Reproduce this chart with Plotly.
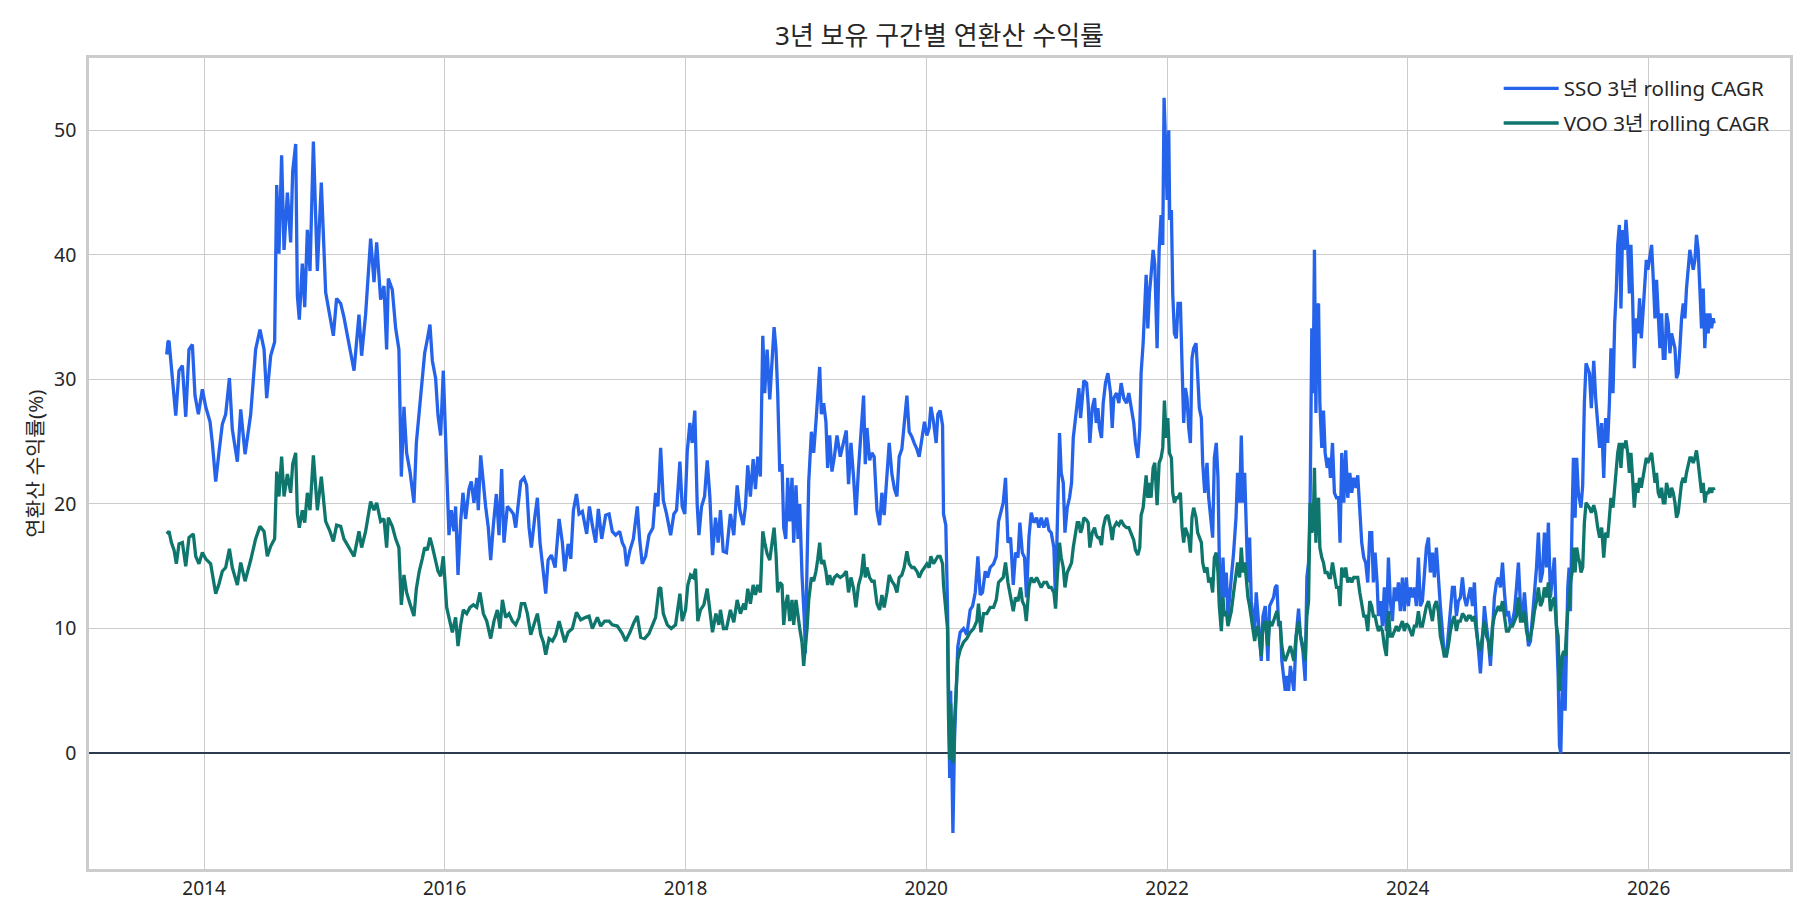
import datetime as dt
import plotly.graph_objects as go

# ---- data (time as decimal year, value = 3y rolling CAGR in %) ----
sso_points = [
(2013.690,32.0),(2013.700,33.0),(2013.709,33.1),(2013.723,31.5),(2013.745,29.5),(2013.765,27.1),(2013.792,30.7),
(2013.820,31.1),(2013.848,27.0),(2013.875,32.4),(2013.903,32.8),(2013.925,28.7),(2013.953,27.2),(2013.986,29.2),
(2014.014,27.8),(2014.050,26.6),(2014.069,24.9),(2014.097,21.8),(2014.125,24.2),(2014.152,26.4),(2014.180,27.2),
(2014.211,30.1),(2014.235,26.0),(2014.277,23.4),(2014.305,27.6),(2014.341,24.0),(2014.388,27.2),(2014.429,32.4),
(2014.465,34.0),(2014.499,32.4),(2014.521,28.5),(2014.554,31.9),(2014.587,33.0),(2014.604,45.6),(2014.623,40.1),
(2014.645,48.0),(2014.665,40.4),(2014.693,45.0),(2014.720,41.0),(2014.737,46.7),(2014.762,48.9),(2014.776,36.7),
(2014.792,34.8),(2014.817,39.3),(2014.837,35.8),(2014.859,42.0),(2014.881,38.7),(2014.909,49.1),(2014.942,38.7),
(2014.975,45.8),(2015.011,37.0),(2015.047,35.2),(2015.075,33.5),(2015.102,36.5),(2015.136,36.1),(2015.163,35.0),
(2015.205,32.7),(2015.247,30.7),(2015.288,35.2),(2015.310,31.9),(2015.343,35.2),(2015.385,41.3),(2015.413,37.8),
(2015.435,41.0),(2015.468,36.4),(2015.496,37.5),(2015.518,32.4),(2015.532,38.1),(2015.565,37.2),(2015.593,34.1),
(2015.620,32.4),(2015.640,22.2),(2015.662,27.8),(2015.684,24.1),(2015.712,22.6),(2015.745,20.1),(2015.765,24.9),
(2015.789,27.5),(2015.814,30.1),(2015.834,32.1),(2015.856,33.2),(2015.878,34.4),(2015.898,31.5),(2015.925,30.1),
(2015.945,27.1),(2015.967,25.5),(2015.989,30.7),(2016.017,22.1),
(2016.036,17.5),(2016.055,19.5),(2016.077,17.8),(2016.091,19.8),(2016.111,14.3),(2016.133,18.6),(2016.152,20.9),
(2016.174,18.8),(2016.202,21.2),(2016.221,21.8),(2016.243,20.1),(2016.266,22.1),(2016.279,19.5),(2016.299,23.9),
(2016.321,21.5),(2016.340,19.8),(2016.362,18.1),(2016.382,15.5),(2016.404,18.3),(2016.429,20.8),(2016.451,17.5),
(2016.473,22.8),(2016.492,16.9),(2016.520,19.8),(2016.548,19.5),(2016.570,19.2),(2016.589,18.1),(2016.609,19.8),
(2016.631,21.8),(2016.658,22.1),(2016.680,21.5),(2016.700,18.1),(2016.719,16.5),(2016.747,18.9),(2016.769,20.5),
(2016.791,16.9),(2016.811,15.2),(2016.838,12.8),(2016.858,15.5),(2016.885,15.9),(2016.916,14.9),(2016.949,18.8),
(2016.976,16.9),(2016.996,14.6),(2017.024,16.8),(2017.046,15.6),(2017.068,19.5),(2017.093,20.8),(2017.115,19.2),
(2017.142,19.4),(2017.178,17.6),(2017.201,19.8),(2017.225,18.3),(2017.253,16.9),(2017.275,19.6),(2017.303,17.2),
(2017.336,19.1),(2017.364,19.2),(2017.391,17.8),(2017.419,17.5),(2017.452,17.8),(2017.474,16.9),(2017.494,16.5),
(2017.510,15.0),(2017.538,16.3),(2017.566,17.2),(2017.599,19.8),(2017.618,17.2),(2017.640,15.2),(2017.668,15.8),
(2017.696,17.5),(2017.729,18.1),(2017.751,20.9),(2017.770,19.8),(2017.793,24.5),(2017.815,20.3),(2017.842,19.2),
(2017.876,17.5),(2017.903,19.2),(2017.925,19.5),(2017.953,23.4),(2017.972,19.8),(2017.994,19.2),(2018.014,24.2),
(2018.036,26.5),(2018.055,24.9),(2018.077,27.5),(2018.097,19.9),(2018.111,17.5),(2018.133,19.8),(2018.158,20.6),
(2018.180,23.5),(2018.202,20.6),(2018.224,15.9),(2018.249,18.9),(2018.271,16.9),(2018.290,19.5),(2018.313,16.2),
(2018.340,16.1),
(2018.373,19.2),(2018.401,17.5),(2018.429,21.5),(2018.451,19.5),(2018.479,18.3),(2018.498,19.8),(2018.517,23.1),
(2018.539,20.6),(2018.562,23.6),(2018.581,21.2),(2018.600,23.8),(2018.622,22.2),(2018.642,33.5),(2018.658,28.9),
(2018.678,32.4),(2018.700,28.4),(2018.719,31.8),(2018.736,34.2),(2018.752,32.4),(2018.766,28.9),(2018.783,22.6),
(2018.802,23.2),(2018.816,18.1),(2018.833,17.2),(2018.849,22.1),(2018.866,18.6),(2018.885,22.1),(2018.899,16.9),
(2018.918,21.5),(2018.935,17.2),(2018.949,20.0),(2018.968,14.3),(2018.988,10.6),(2018.996,8.0),(2019.010,15.2),
(2019.024,21.8),(2019.046,25.8),(2019.065,24.1),(2019.084,26.6),(2019.098,28.4),(2019.115,31.0),(2019.129,27.2),
(2019.148,28.1),(2019.167,26.6),(2019.181,22.9),(2019.198,25.5),(2019.217,22.6),(2019.237,23.8),(2019.259,25.5),
(2019.286,23.8),(2019.314,24.9),(2019.336,25.9),(2019.355,21.6),(2019.375,24.9),(2019.397,22.1),(2019.416,19.1),
(2019.438,22.9),(2019.461,25.8),(2019.480,28.7),(2019.494,23.2),(2019.508,26.1),(2019.530,23.5),(2019.549,24.1),
(2019.568,23.8),(2019.591,19.5),(2019.613,18.3),(2019.632,20.9),(2019.651,19.1),(2019.674,22.4),(2019.693,24.9),
(2019.715,22.4),(2019.737,21.2),(2019.757,20.6),(2019.776,23.8),(2019.798,24.4),(2019.817,26.6),(2019.840,28.7),
(2019.859,25.8),(2019.881,25.4),(2019.900,24.9),(2019.923,24.4),(2019.942,23.8),(2019.964,25.2),(2019.986,26.6),
(2020.006,25.5),(2020.025,26.1),(2020.039,27.8),(2020.061,26.6),(2020.083,24.9),(2020.097,27.2),(2020.116,27.5),
(2020.136,26.3),(2020.144,19.2),(2020.163,18.3),(2020.177,11.8),(2020.185,2.0),(2020.195,-2.0),(2020.203,5.0),
(2020.212,-1.0),(2020.222,-6.4),(2020.235,1.0),(2020.250,6.0),(2020.262,8.5),(2020.282,9.7),(2020.310,10.0),
(2020.337,9.5),(2020.365,11.5),(2020.385,11.8),(2020.407,12.9),(2020.429,15.8),(2020.448,12.7),(2020.467,12.9),
(2020.490,14.6),(2020.509,14.1),(2020.531,14.9),(2020.559,15.2),(2020.581,15.8),(2020.600,18.6),
(2020.639,20.1),(2020.658,22.1),(2020.678,16.9),(2020.700,17.3),(2020.722,13.5),(2020.741,16.1),(2020.761,15.7),
(2020.777,18.5),(2020.797,16.1),(2020.816,15.7),(2020.832,12.5),(2020.852,17.3),(2020.871,19.3),(2020.893,18.5),
(2020.916,18.9),(2020.935,18.1),(2020.954,18.9),(2020.976,18.1),(2020.999,18.9),(2021.018,17.9),(2021.037,17.7),
(2021.059,16.5),(2021.073,12.2),(2021.087,18.1),(2021.106,25.7),(2021.120,22.5),(2021.137,21.7),(2021.151,17.7),
(2021.170,19.7),(2021.189,20.5),(2021.206,21.7),(2021.220,25.3),(2021.239,26.9),(2021.253,28.1),(2021.267,29.3),
(2021.281,26.9),(2021.295,28.5),(2021.308,29.9),(2021.331,29.7),(2021.344,28.1),(2021.358,24.9),(2021.378,27.7),
(2021.397,28.5),(2021.411,26.5),(2021.425,27.7),(2021.438,26.1),(2021.455,25.3),(2021.469,28.1),(2021.488,29.7),
(2021.508,30.5),(2021.530,28.9),(2021.544,26.1),(2021.557,28.5),(2021.580,28.9),(2021.599,28.1),(2021.618,29.7),
(2021.640,28.5),(2021.663,28.1),(2021.682,28.9),(2021.701,27.7),(2021.723,26.5),(2021.737,24.9),(2021.757,23.7),
(2021.773,26.1),(2021.784,30.5),(2021.801,32.9),(2021.812,35.3),(2021.826,38.4),(2021.840,34.1),(2021.853,36.9),
(2021.867,38.4),(2021.884,40.4),(2021.898,39.2),(2021.917,32.5),(2021.934,40.4),(2021.950,43.2),(2021.964,40.8),
(2021.975,52.6),(2021.989,48.4),(2022.000,44.4),(2022.014,50.0),(2022.022,42.8),(2022.036,43.6),(2022.047,36.9),
(2022.061,33.7),(2022.077,33.3),(2022.091,36.1),(2022.111,36.1),(2022.124,31.3),(2022.138,26.5),(2022.152,29.3),
(2022.166,28.5),(2022.180,26.1),(2022.194,24.9),(2022.207,31.7),(2022.221,32.5),(2022.241,32.9),(2022.254,30.1),
(2022.268,27.7),(2022.285,26.9),(2022.296,23.3),(2022.313,20.9),(2022.332,23.3),(2022.346,20.5),(2022.360,18.9),
(2022.379,17.3),(2022.393,23.7),(2022.409,24.9),(2022.423,22.1),(2022.434,15.7),(2022.451,10.2),(2022.465,15.7),
(2022.476,12.5),(2022.492,14.5),(2022.506,11.0),(2022.520,12.9),(2022.534,14.1),(2022.553,16.1),(2022.573,18.9),
(2022.586,22.5),(2022.603,20.1),(2022.617,25.5),(2022.631,20.1),(2022.645,22.5),(2022.658,18.1),(2022.672,13.7),
(2022.686,17.3),(2022.700,12.2),(2022.714,11.0),(2022.728,9.8),(2022.741,12.9),(2022.755,10.6),(2022.769,9.4),
(2022.783,7.4),(2022.797,11.0),(2022.816,11.8),(2022.838,7.4),(2022.852,11.8),(2022.871,12.2),(2022.885,12.5),
(2022.899,13.3),(2022.913,13.5),(2022.927,10.2),(2022.941,10.6),(2022.954,7.4),(2022.968,6.2),(2022.982,5.0),
(2022.996,6.2),(2023.010,5.0),(2023.025,7.0),
(2023.054,5.0),(2023.073,9.4),(2023.093,11.6),(2023.109,9.4),(2023.129,8.2),(2023.148,5.8),(2023.162,14.1),
(2023.176,15.3),(2023.189,20.1),(2023.203,34.1),(2023.214,28.9),(2023.225,40.4),(2023.237,27.3),(2023.248,35.7),
(2023.259,36.1),(2023.270,28.1),(2023.286,24.5),(2023.300,27.5),(2023.314,24.1),(2023.331,22.9),(2023.347,23.7),
(2023.358,22.1),(2023.375,24.9),(2023.391,20.9),(2023.408,20.5),(2023.425,20.5),(2023.438,16.9),(2023.452,24.1),
(2023.469,20.1),(2023.485,24.3),(2023.502,20.5),(2023.519,22.5),(2023.535,20.9),(2023.552,22.1),(2023.571,21.3),
(2023.585,22.3),(2023.602,18.9),(2023.618,16.9),(2023.635,15.7),(2023.651,15.3),(2023.668,13.7),(2023.685,17.7),
(2023.701,17.7),(2023.715,13.7),(2023.729,16.1),(2023.746,13.7),(2023.757,11.0),(2023.773,12.2),(2023.790,10.2),
(2023.806,13.3),(2023.823,9.8),(2023.840,15.7),(2023.856,12.2),(2023.873,10.6),(2023.889,13.3),(2023.906,12.2),
(2023.923,13.7),(2023.939,11.4),(2023.956,14.1),(2023.972,11.4),(2023.989,14.1),(2024.006,11.8),(2024.022,13.3),
(2024.039,12.5),(2024.055,13.3),(2024.072,11.8),(2024.089,15.7),(2024.105,11.8),(2024.122,12.2),(2024.138,14.5),
(2024.155,16.5),(2024.172,17.3),(2024.188,14.5),(2024.205,16.1),(2024.221,14.1),(2024.238,16.5),(2024.254,13.7),
(2024.271,11.8),(2024.288,9.8),(2024.304,7.8),(2024.321,7.8),(2024.337,9.4),(2024.354,11.0),(2024.371,13.3),
(2024.387,13.3),(2024.404,11.0),(2024.420,12.2),(2024.437,12.5),(2024.454,14.1),(2024.470,12.5),(2024.487,11.8),
(2024.503,12.5),(2024.520,13.3),(2024.537,11.8),(2024.553,13.7),(2024.570,10.2),(2024.586,8.6),(2024.603,6.4),
(2024.620,9.0),(2024.636,11.8),(2024.653,10.2),(2024.669,9.0),(2024.686,7.0),(2024.703,10.2),(2024.719,12.5),
(2024.736,13.7),(2024.752,14.1),(2024.769,13.3),(2024.786,15.3),(2024.802,12.9),(2024.819,11.0),(2024.835,11.4),
(2024.852,10.2),(2024.869,10.6),(2024.885,11.4),(2024.902,13.3),(2024.918,15.3),(2024.935,11.8),(2024.952,11.0),
(2024.968,12.9),(2024.985,10.6),(2025.001,8.6),(2025.018,9.0),(2025.035,11.0),(2025.051,13.3),(2025.068,14.9),
(2025.084,17.7),(2025.101,13.7),(2025.118,14.5),(2025.134,17.7),(2025.151,14.9),(2025.167,18.5),(2025.184,12.5),
(2025.201,14.5),(2025.217,15.7),(2025.234,10.2),(2025.248,6.2),(2025.259,0.6),(2025.270,0.0),(2025.281,4.6),
(2025.295,7.8),(2025.306,3.4),(2025.317,8.2),(2025.328,13.3),(2025.339,14.9),(2025.350,11.4),(2025.364,18.9),
(2025.375,23.7),(2025.389,18.9),(2025.402,23.7),(2025.416,20.9),(2025.427,20.1),(2025.438,19.7),(2025.452,21.5),
(2025.466,28.1),(2025.480,31.3),
(2025.508,30.5),(2025.524,27.7),(2025.544,31.5),(2025.560,28.5),(2025.577,26.5),(2025.593,24.5),(2025.610,26.5),
(2025.627,22.1),(2025.643,26.9),(2025.660,24.9),(2025.674,28.1),(2025.687,32.5),(2025.704,28.9),(2025.718,34.5),
(2025.732,37.3),(2025.743,40.8),(2025.757,42.4),(2025.770,35.7),(2025.784,42.0),(2025.798,40.4),(2025.812,42.8),
(2025.826,40.8),(2025.840,36.9),(2025.853,40.8),(2025.867,36.5),(2025.881,30.9),(2025.898,34.9),(2025.911,33.7),
(2025.925,36.5),(2025.939,33.3),(2025.953,35.3),(2025.967,37.3),(2025.981,39.6),(2025.994,38.8),(2026.008,39.6),
(2026.025,40.8),(2026.039,38.0),(2026.053,34.9),(2026.066,38.0),(2026.080,34.5),(2026.094,32.5),(2026.108,35.3),
(2026.122,31.7),(2026.136,31.7),(2026.149,35.3),(2026.163,34.5),(2026.177,32.1),(2026.191,33.7),(2026.205,32.9),
(2026.219,32.5),(2026.232,30.1),(2026.246,30.5),(2026.260,32.5),(2026.274,34.9),(2026.288,36.1),(2026.302,34.9),
(2026.315,37.3),(2026.329,39.2),(2026.343,40.4),(2026.357,39.6),(2026.371,38.8),(2026.385,39.6),(2026.398,41.6),
(2026.412,40.4),(2026.426,37.3),(2026.440,34.1),(2026.454,37.3),(2026.467,32.5),(2026.481,35.3),(2026.495,33.7),
(2026.509,35.3),(2026.523,34.1),(2026.537,34.9),(2026.545,34.5),
]

voo_points = [
(2013.690,17.6),(2013.709,17.8),(2013.729,16.9),(2013.751,16.3),(2013.770,15.2),(2013.792,16.8),(2013.820,16.9),
(2013.848,15.0),(2013.875,17.3),(2013.911,17.6),(2013.931,15.8),(2013.958,15.2),(2013.986,16.1),(2014.014,15.6),
(2014.055,15.2),(2014.078,13.9),(2014.097,12.8),(2014.125,13.6),(2014.152,14.6),(2014.180,14.9),(2014.211,16.4),
(2014.235,14.9),(2014.277,13.5),(2014.305,15.3),(2014.341,13.8),(2014.388,15.5),(2014.429,17.2),(2014.465,18.2),
(2014.499,17.8),(2014.526,15.8),(2014.554,16.6),(2014.587,17.2),(2014.604,22.6),(2014.623,20.6),(2014.645,23.8),
(2014.665,20.6),(2014.693,22.4),(2014.720,20.9),(2014.737,23.2),(2014.762,24.1),(2014.776,19.2),(2014.792,18.1),
(2014.817,19.5),(2014.837,18.5),(2014.859,20.9),(2014.881,19.5),(2014.909,23.9),(2014.942,19.5),(2014.975,22.2),
(2015.011,18.6),(2015.047,17.8),(2015.075,17.0),(2015.102,18.3),(2015.136,18.2),(2015.163,17.2),(2015.205,16.5),
(2015.247,15.8),(2015.288,17.8),(2015.310,16.5),(2015.343,17.8),(2015.385,20.2),(2015.413,19.5),(2015.435,20.1),
(2015.468,18.6),(2015.496,18.8),(2015.518,16.5),(2015.532,18.9),(2015.565,18.2),(2015.593,17.2),(2015.620,16.5),
(2015.640,11.9),(2015.662,14.3),(2015.684,12.9),(2015.712,12.0),(2015.745,11.0),(2015.765,13.2),(2015.789,14.6),
(2015.814,15.6),(2015.834,16.5),(2015.856,16.3),(2015.878,17.3),(2015.898,16.6),(2015.925,15.5),(2015.945,14.6),
(2015.967,14.2),(2015.989,15.8),(2016.017,11.7),
(2016.036,10.9),(2016.064,9.7),(2016.091,10.9),(2016.111,8.6),(2016.133,10.3),(2016.155,11.5),(2016.183,11.2),
(2016.210,11.7),(2016.238,11.9),(2016.266,11.7),(2016.293,12.9),(2016.321,11.2),(2016.349,10.6),(2016.382,9.2),
(2016.409,10.6),(2016.437,11.5),(2016.459,10.0),(2016.479,12.3),(2016.506,10.9),(2016.534,11.2),(2016.562,10.6),
(2016.589,10.3),(2016.617,10.9),(2016.636,12.0),(2016.664,12.0),(2016.686,11.2),(2016.714,9.5),(2016.741,10.3),
(2016.769,11.2),(2016.797,9.5),(2016.819,8.9),(2016.838,7.9),(2016.866,9.2),(2016.894,9.0),(2016.921,9.5),
(2016.949,10.6),(2016.976,9.7),(2016.996,8.9),(2017.024,9.7),(2017.059,10.0),(2017.093,11.3),(2017.129,10.7),
(2017.170,10.9),(2017.198,11.0),(2017.225,10.0),(2017.267,10.9),(2017.295,10.2),(2017.328,10.6),(2017.364,10.6),
(2017.391,10.3),(2017.433,10.2),(2017.474,9.6),(2017.502,9.0),(2017.538,9.7),(2017.571,10.5),(2017.599,11.0),
(2017.627,9.3),(2017.660,9.2),(2017.696,9.6),(2017.723,10.2),(2017.751,10.9),(2017.779,13.2),(2017.793,13.3),
(2017.815,11.2),(2017.848,10.3),(2017.881,10.0),(2017.917,10.3),(2017.953,12.8),(2017.972,10.6),(2018.000,11.5),
(2018.019,13.5),(2018.041,14.3),(2018.064,14.1),(2018.083,14.8),(2018.102,10.6),(2018.124,11.5),(2018.152,11.9),
(2018.180,13.2),(2018.202,11.5),(2018.224,9.7),(2018.252,11.2),(2018.277,10.3),(2018.290,11.5),(2018.315,10.0),
(2018.340,10.0),
(2018.373,11.5),(2018.401,10.5),(2018.429,12.3),(2018.456,11.2),(2018.484,12.0),(2018.498,11.5),(2018.517,13.2),
(2018.539,12.0),(2018.562,13.5),(2018.581,12.7),(2018.600,13.5),(2018.622,12.9),(2018.642,17.8),(2018.658,16.9),
(2018.678,16.0),(2018.700,15.5),(2018.719,16.9),(2018.736,18.1),(2018.752,16.0),(2018.766,12.9),(2018.783,13.7),
(2018.802,13.5),(2018.816,10.3),(2018.833,12.0),(2018.849,12.7),(2018.866,10.6),(2018.885,12.3),(2018.899,10.3),
(2018.918,12.3),(2018.935,10.9),(2018.949,10.0),(2018.968,8.9),(2018.982,7.0),(2018.996,8.6),(2019.010,10.0),
(2019.024,12.3),(2019.046,14.1),(2019.065,13.8),(2019.084,14.6),(2019.098,15.5),(2019.115,16.9),(2019.129,15.2),
(2019.148,15.5),(2019.167,14.6),(2019.181,13.5),(2019.198,14.3),(2019.217,13.5),(2019.237,14.1),(2019.259,14.3),
(2019.286,14.1),(2019.314,14.3),(2019.336,14.6),(2019.355,12.9),(2019.375,14.1),(2019.397,13.2),(2019.416,11.7),
(2019.438,13.5),(2019.461,14.3),(2019.480,16.0),(2019.494,14.1),(2019.508,14.9),(2019.530,14.1),(2019.549,13.8),
(2019.568,13.8),(2019.591,12.0),(2019.613,11.5),(2019.632,12.7),(2019.651,11.7),(2019.674,12.9),(2019.693,14.3),
(2019.715,13.8),(2019.737,13.5),(2019.757,12.9),(2019.776,14.1),(2019.798,14.3),(2019.817,14.9),(2019.840,16.2),
(2019.859,15.2),(2019.881,14.9),(2019.900,14.9),(2019.923,14.6),(2019.942,14.1),(2019.964,14.6),(2019.986,14.9),
(2020.006,15.2),(2020.025,14.9),(2020.039,15.8),(2020.061,15.2),(2020.083,15.5),(2020.097,15.8),(2020.116,15.8),
(2020.136,15.2),(2020.144,13.5),(2020.163,11.7),(2020.177,10.0),(2020.185,3.0),(2020.195,-0.5),(2020.203,4.0),
(2020.212,1.0),(2020.222,-0.8),(2020.235,2.5),(2020.250,5.5),(2020.262,7.5),(2020.282,8.3),(2020.310,8.9),
(2020.337,9.2),(2020.365,9.7),(2020.393,10.0),(2020.420,10.6),(2020.434,12.0),(2020.454,9.7),(2020.476,11.2),
(2020.503,11.2),(2020.531,11.7),(2020.559,11.7),(2020.581,12.3),(2020.600,13.7),
(2020.639,14.1),(2020.658,15.3),(2020.678,13.7),(2020.700,12.5),(2020.722,11.4),(2020.741,12.5),(2020.761,12.2),
(2020.783,13.3),(2020.797,12.2),(2020.816,11.8),(2020.830,10.6),(2020.852,13.3),(2020.871,14.1),(2020.893,13.7),
(2020.916,14.1),(2020.935,13.7),(2020.954,13.3),(2020.976,13.7),(2020.999,13.7),(2021.018,13.3),(2021.037,13.3),
(2021.059,12.9),(2021.073,11.6),(2021.087,14.1),(2021.106,16.9),(2021.120,15.7),(2021.137,14.9),(2021.151,13.3),
(2021.170,14.5),(2021.189,14.9),(2021.206,15.3),(2021.220,16.5),(2021.239,17.7),(2021.253,18.5),(2021.267,18.5),
(2021.281,17.7),(2021.295,18.1),(2021.308,18.9),(2021.331,18.7),(2021.344,18.5),(2021.358,16.5),(2021.378,17.7),
(2021.397,18.1),(2021.411,17.5),(2021.425,17.3),(2021.438,17.3),(2021.455,16.7),(2021.469,18.1),(2021.488,18.9),
(2021.508,19.1),(2021.530,18.1),(2021.544,17.1),(2021.557,18.1),(2021.580,18.5),(2021.599,18.3),(2021.618,18.7),
(2021.640,18.3),(2021.663,18.1),(2021.682,18.1),(2021.701,17.7),(2021.723,17.1),(2021.737,16.3),(2021.757,15.9),
(2021.773,16.5),(2021.784,19.1),(2021.801,19.7),(2021.812,20.9),(2021.826,22.3),(2021.840,20.5),(2021.853,21.7),
(2021.867,20.5),(2021.884,22.9),(2021.898,23.3),(2021.917,19.9),(2021.934,23.3),(2021.950,23.7),(2021.964,24.5),
(2021.978,28.3),(2021.992,25.3),(2022.006,26.9),(2022.019,24.1),(2022.036,23.7),(2022.047,20.9),(2022.061,20.1),
(2022.077,20.5),(2022.091,20.5),(2022.111,20.9),(2022.124,18.1),(2022.138,16.9),(2022.152,18.1),(2022.166,17.7),
(2022.180,17.3),(2022.194,16.1),(2022.207,18.9),(2022.221,19.7),(2022.241,18.9),(2022.254,17.7),(2022.268,17.3),
(2022.285,16.9),(2022.296,15.3),(2022.313,14.5),(2022.332,14.9),(2022.346,13.7),(2022.360,14.1),(2022.379,12.9),
(2022.393,15.7),(2022.409,16.1),(2022.423,14.5),(2022.434,11.8),(2022.451,9.8),(2022.465,12.5),(2022.476,11.0),
(2022.492,11.4),(2022.506,10.2),(2022.520,11.0),(2022.534,11.4),(2022.553,12.9),(2022.573,14.5),(2022.586,15.3),
(2022.603,14.1),(2022.617,16.5),(2022.631,14.5),(2022.645,15.3),(2022.658,14.1),(2022.672,12.5),(2022.686,11.8),
(2022.700,11.0),(2022.714,10.2),(2022.728,9.0),(2022.741,9.8),(2022.755,10.2),(2022.769,9.0),(2022.783,7.8),
(2022.797,10.2),(2022.816,10.6),(2022.838,8.6),(2022.852,10.6),(2022.871,10.2),(2022.885,10.6),(2022.899,11.0),
(2022.913,11.4),(2022.927,10.6),(2022.941,10.2),(2022.954,8.6),(2022.968,7.8),(2022.982,7.4),(2022.996,7.8),
(2023.010,8.2),(2023.025,8.6),
(2023.054,7.4),(2023.073,9.4),(2023.093,10.6),(2023.109,9.4),(2023.129,8.6),(2023.148,7.4),(2023.162,11.0),
(2023.176,12.2),(2023.189,20.1),(2023.203,17.7),(2023.214,18.1),(2023.225,22.9),(2023.237,16.9),(2023.248,19.7),
(2023.259,20.5),(2023.270,16.5),(2023.286,15.7),(2023.300,15.3),(2023.314,14.5),(2023.331,14.5),(2023.347,14.1),
(2023.358,14.1),(2023.375,15.3),(2023.391,14.1),(2023.408,13.3),(2023.425,13.3),(2023.438,11.8),(2023.452,14.9),
(2023.469,14.1),(2023.485,14.9),(2023.502,13.7),(2023.519,14.1),(2023.535,13.7),(2023.552,14.1),(2023.571,14.1),
(2023.585,14.1),(2023.602,12.9),(2023.618,11.8),(2023.635,11.0),(2023.651,11.0),(2023.668,9.8),(2023.685,12.2),
(2023.701,11.8),(2023.715,11.0),(2023.729,11.0),(2023.746,10.2),(2023.757,9.8),(2023.773,10.2),(2023.790,9.8),
(2023.806,8.6),(2023.823,7.8),(2023.840,11.4),(2023.856,9.4),(2023.873,9.4),(2023.889,9.8),(2023.906,10.2),
(2023.923,9.8),(2023.939,10.2),(2023.956,10.6),(2023.972,9.8),(2023.989,10.4),(2024.006,10.2),(2024.022,9.8),
(2024.039,9.4),(2024.055,10.2),(2024.072,10.2),(2024.089,11.4),(2024.105,10.2),(2024.122,10.2),(2024.138,11.0),
(2024.155,11.8),(2024.172,12.2),(2024.188,11.4),(2024.205,10.6),(2024.221,11.8),(2024.238,12.2),(2024.254,11.4),
(2024.271,9.4),(2024.288,8.6),(2024.304,7.8),(2024.321,7.8),(2024.337,8.6),(2024.354,9.8),(2024.371,10.6),
(2024.387,11.0),(2024.404,9.8),(2024.420,10.6),(2024.437,10.6),(2024.454,11.2),(2024.470,11.0),(2024.487,10.6),
(2024.503,11.0),(2024.520,11.0),(2024.537,10.6),(2024.553,11.0),(2024.570,9.8),(2024.586,8.6),(2024.603,8.2),
(2024.620,9.4),(2024.636,10.6),(2024.653,9.4),(2024.669,9.0),(2024.686,7.8),(2024.703,10.2),(2024.719,11.0),
(2024.736,11.4),(2024.752,11.8),(2024.769,11.4),(2024.786,12.2),(2024.802,11.0),(2024.819,9.8),(2024.835,9.8),
(2024.852,10.2),(2024.869,10.2),(2024.885,10.6),(2024.902,11.0),(2024.918,12.5),(2024.935,10.6),(2024.952,10.6),
(2024.968,11.4),(2024.985,9.8),(2025.001,9.0),(2025.018,9.4),(2025.035,10.2),(2025.051,11.4),(2025.068,12.2),
(2025.084,13.3),(2025.101,11.8),(2025.118,12.2),(2025.134,13.3),(2025.151,12.5),(2025.167,13.7),(2025.184,11.4),
(2025.201,12.2),(2025.217,12.5),(2025.234,10.2),(2025.248,9.4),(2025.259,5.0),(2025.270,6.6),(2025.281,7.8),
(2025.295,8.2),(2025.306,7.8),(2025.317,9.8),(2025.328,11.4),(2025.339,11.8),(2025.350,13.7),(2025.364,14.5),
(2025.375,16.5),(2025.389,14.5),(2025.402,16.5),(2025.416,15.7),(2025.427,15.3),(2025.438,14.5),(2025.452,14.9),
(2025.466,18.5),(2025.480,20.1),
(2025.508,19.7),(2025.524,19.3),(2025.544,19.9),(2025.560,19.3),(2025.577,18.1),(2025.593,17.3),(2025.610,18.1),
(2025.627,15.7),(2025.643,17.7),(2025.660,17.3),(2025.674,18.9),(2025.687,20.5),(2025.704,19.7),(2025.718,21.3),
(2025.732,22.5),(2025.743,24.1),(2025.757,24.9),(2025.770,22.9),(2025.784,24.9),(2025.798,24.5),(2025.812,25.1),
(2025.826,24.1),(2025.840,22.5),(2025.853,24.1),(2025.867,22.1),(2025.881,19.7),(2025.898,21.7),(2025.911,20.9),
(2025.925,22.1),(2025.939,21.3),(2025.953,22.1),(2025.967,22.9),(2025.981,23.7),(2025.994,23.3),(2026.008,23.7),
(2026.025,24.1),(2026.039,22.9),(2026.053,21.7),(2026.066,22.5),(2026.080,20.9),(2026.094,20.5),(2026.108,21.3),
(2026.122,20.1),(2026.136,20.1),(2026.149,21.7),(2026.163,20.9),(2026.177,20.5),(2026.191,21.3),(2026.205,20.9),
(2026.219,20.1),(2026.232,18.9),(2026.246,19.3),(2026.260,20.5),(2026.274,21.7),(2026.288,22.1),(2026.302,21.7),
(2026.315,22.5),(2026.329,23.3),(2026.343,23.7),(2026.357,23.7),(2026.371,23.3),(2026.385,23.7),(2026.398,24.3),
(2026.412,23.3),(2026.426,22.1),(2026.440,20.9),(2026.454,21.7),(2026.467,20.1),(2026.481,20.9),(2026.495,20.9),
(2026.509,21.3),(2026.523,20.9),(2026.537,21.3),(2026.545,21.1),
]

series_names = ["SSO 3년 rolling CAGR", "VOO 3년 rolling CAGR"]
title_text = "3년 보유 구간별 연환산 수익률"
y_title = "연환산 수익률(%)"
x_tick_years = [2014, 2016, 2018, 2020, 2022, 2024, 2026]
y_ticks = [0, 10, 20, 30, 40, 50]


def to_date(y):
    yr = int(y)
    start = dt.datetime(yr, 1, 1)
    end = dt.datetime(yr + 1, 1, 1)
    return start + (end - start) * (y - yr)


sso_t = [to_date(p[0]) for p in sso_points]
sso_v = [p[1] for p in sso_points]
voo_t = [to_date(p[0]) for p in voo_points]
voo_v = [p[1] for p in voo_points]

FONT = "Noto Sans, Noto Sans CJK KR, sans-serif"
TXT = "#262626"
GRID = "#cccccc"

fig = go.Figure()
fig.add_trace(go.Scatter(x=sso_t, y=sso_v, mode="lines", name=series_names[0],
                         legendgroup="a", line=dict(color="#2563eb", width=3.3)))
fig.add_trace(go.Scatter(x=voo_t, y=voo_v, mode="lines", name=series_names[1],
                         legendgroup="b", line=dict(color="#0f766e", width=3.3)))

fig.update_layout(
    width=1815, height=923,
    margin=dict(l=89, r=25, t=58, b=54),
    paper_bgcolor="white", plot_bgcolor="white",
    font=dict(family=FONT, size=19, color=TXT),
    title=dict(text=title_text, x=0.5, xref="paper", xanchor="center",
               y=1 - 36 / 923, yref="container", yanchor="middle",
               font=dict(size=26, color=TXT, family=FONT)),
    showlegend=True,
    legend=dict(x=0.991, xanchor="right", y=0.987, yanchor="top",
                bgcolor="rgba(0,0,0,0)", font=dict(size=20.5, color=TXT, family=FONT),
                tracegroupgap=5, itemwidth=55),
    hovermode="x unified",
)

fig.update_xaxes(
    type="date",
    range=[dt.datetime(2013, 1, 17), dt.datetime(2027, 3, 6)],
    tickvals=[dt.datetime(y, 1, 1) for y in x_tick_years],
    ticktext=[str(y) for y in x_tick_years],
    showgrid=True, gridcolor=GRID, gridwidth=1.3,
    showline=True, linecolor=GRID, linewidth=2.5, mirror=True,
    ticks="", tickfont=dict(size=19, color=TXT),
    zeroline=False,
)
fig.update_yaxes(
    range=[-9.3, 55.8],
    tickvals=y_ticks,
    showgrid=True, gridcolor=GRID, gridwidth=1.3,
    showline=True, linecolor=GRID, linewidth=2.5, mirror=True,
    ticks="", tickfont=dict(size=19.5, color=TXT), ticklabelstandoff=6,
    zeroline=True, zerolinecolor="#2e3a4f", zerolinewidth=1.6,
    title=dict(text=y_title, font=dict(size=20.5, color=TXT, family=FONT), standoff=5),
)

fig.write_html("out.html")
